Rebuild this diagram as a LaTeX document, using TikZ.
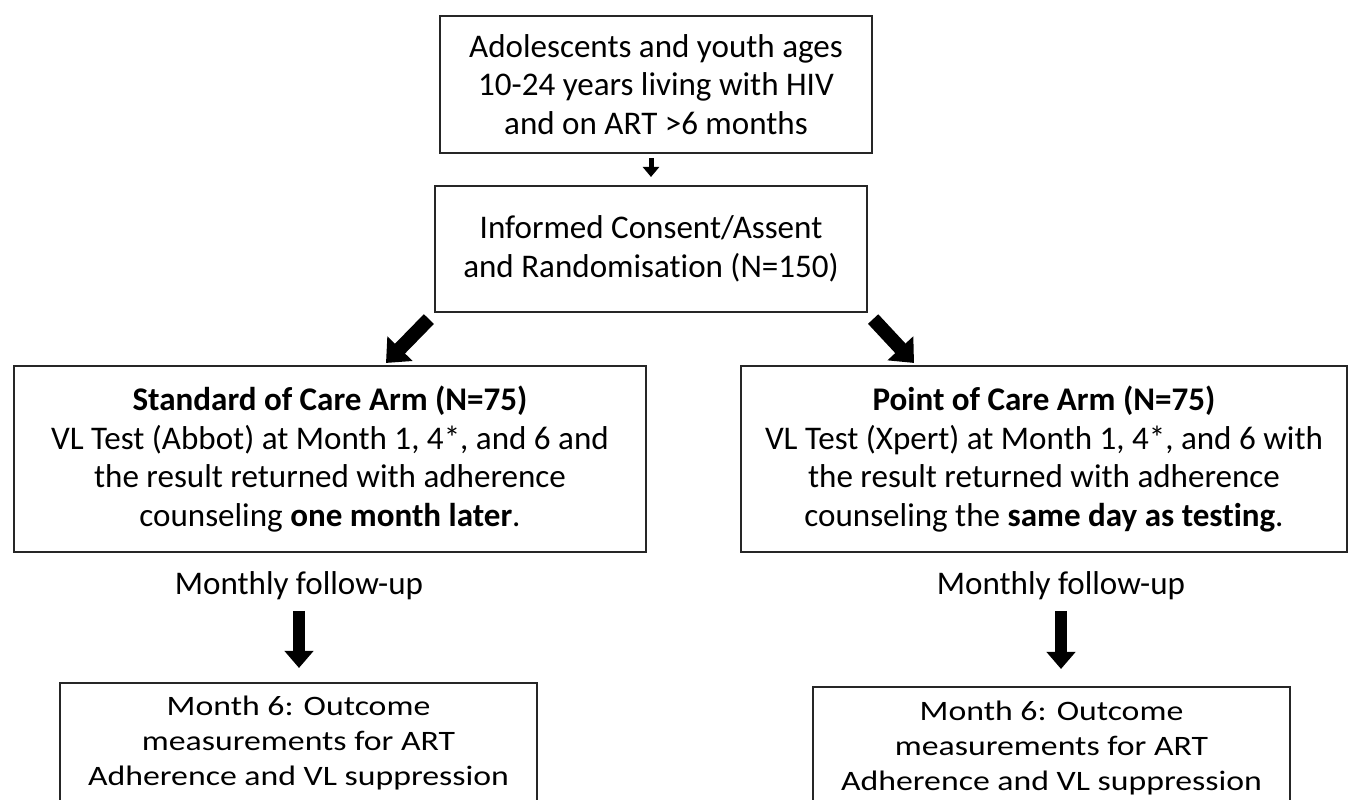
\documentclass[tikz,border=0pt]{standalone}
\usepackage{fontspec}
\setmainfont[Ligatures=NoCommon]{Carlito}
\newfontfamily\widefont[FakeStretch=1.2, Ligatures=NoCommon]{Carlito}
\usetikzlibrary{arrows.meta, positioning, calc}

\begin{document}
\begin{tikzpicture}[x=0.01cm, y=-0.01cm,
        box/.style={rectangle, draw=black!85, line width=0.02cm, inner sep=0pt, align=center, font=\fontsize{9.4pt}{11pt}\selectfont},
        outbox/.style={box, font=\widefont\fontsize{8pt}{10pt}\selectfont},
        fulabel/.style={inner sep=0pt, font=\fontsize{9.4pt}{11pt}\selectfont},
        smallarrow/.style={line width=0.05cm, -{Triangle[width=0.16cm,length=0.1cm]}},
        bigarrow/.style={line width=0.12cm, -{Triangle[width=0.28cm,length=0.17cm]}},
        diagarrow/.style={line width=0.14cm, -{Triangle[width=0.34cm,length=0.2cm]}}
    ]
        \useasboundingbox (0,0) rectangle (1352,799);
        \clip (0,0) rectangle (1352,799);
        \fill[white] (0,0) rectangle (1352,799);

        \node[box, minimum width=4.32cm, minimum height=1.37cm] (elig) at (656,84.5) {Adolescents and youth ages\\10-24 years living with HIV\\and on ART >6 months};
        \node[box, minimum width=4.32cm, minimum height=1.26cm] (rand) at (651,249) {Informed Consent/Assent\\and Randomisation (N=150)};
        \node[box, minimum width=6.32cm, minimum height=1.86cm] (soc) at (330,459) {\textbf{Standard of Care Arm (N=75)}\\VL Test (Abbot) at Month 1, 4*, and 6 and\\the result returned with adherence\\counseling \textbf{one month later}.};
        \node[box, minimum width=6.06cm, minimum height=1.86cm] (poc) at (1044,459) {\textbf{Point of Care Arm (N=75)}\\VL Test (Xpert) at Month 1, 4*, and 6 with\\the result returned with adherence\\counseling the \textbf{same day as testing}.};
        \node[fulabel] (fu1) at (299,586) {Monthly follow-up};
        \node[fulabel] (fu2) at (1061,586) {Monthly follow-up};
        \node[outbox, minimum width=4.77cm, minimum height=1.20cm] (out1) at (298.5,743) {Month 6: Outcome\\measurements for ART\\Adherence and VL suppression};
        \node[outbox, minimum width=4.77cm, minimum height=1.22cm] (out2) at (1051.5,748) {Month 6: Outcome\\measurements for ART\\Adherence and VL suppression};

        \draw[smallarrow] ([yshift=-0.04cm]rand.north |- elig.south) -- ([yshift=0.08cm]rand.north);
        \draw[diagarrow] ([shift={(-5,6)}]rand.south west) -- ([shift={(56,-2)}]soc.north);
        \draw[diagarrow] ([shift={(5,6)}]rand.south east) -- ([shift={(-130,-2)}]poc.north);
        \draw[bigarrow] ([yshift=-0.1cm]fu1.south) -- ([yshift=0.14cm]fu1.south |- out1.north);
        \draw[bigarrow] ([yshift=-0.1cm]fu2.south) -- ([yshift=0.17cm]fu2.south |- out2.north);
    \end{tikzpicture}
\end{document}
